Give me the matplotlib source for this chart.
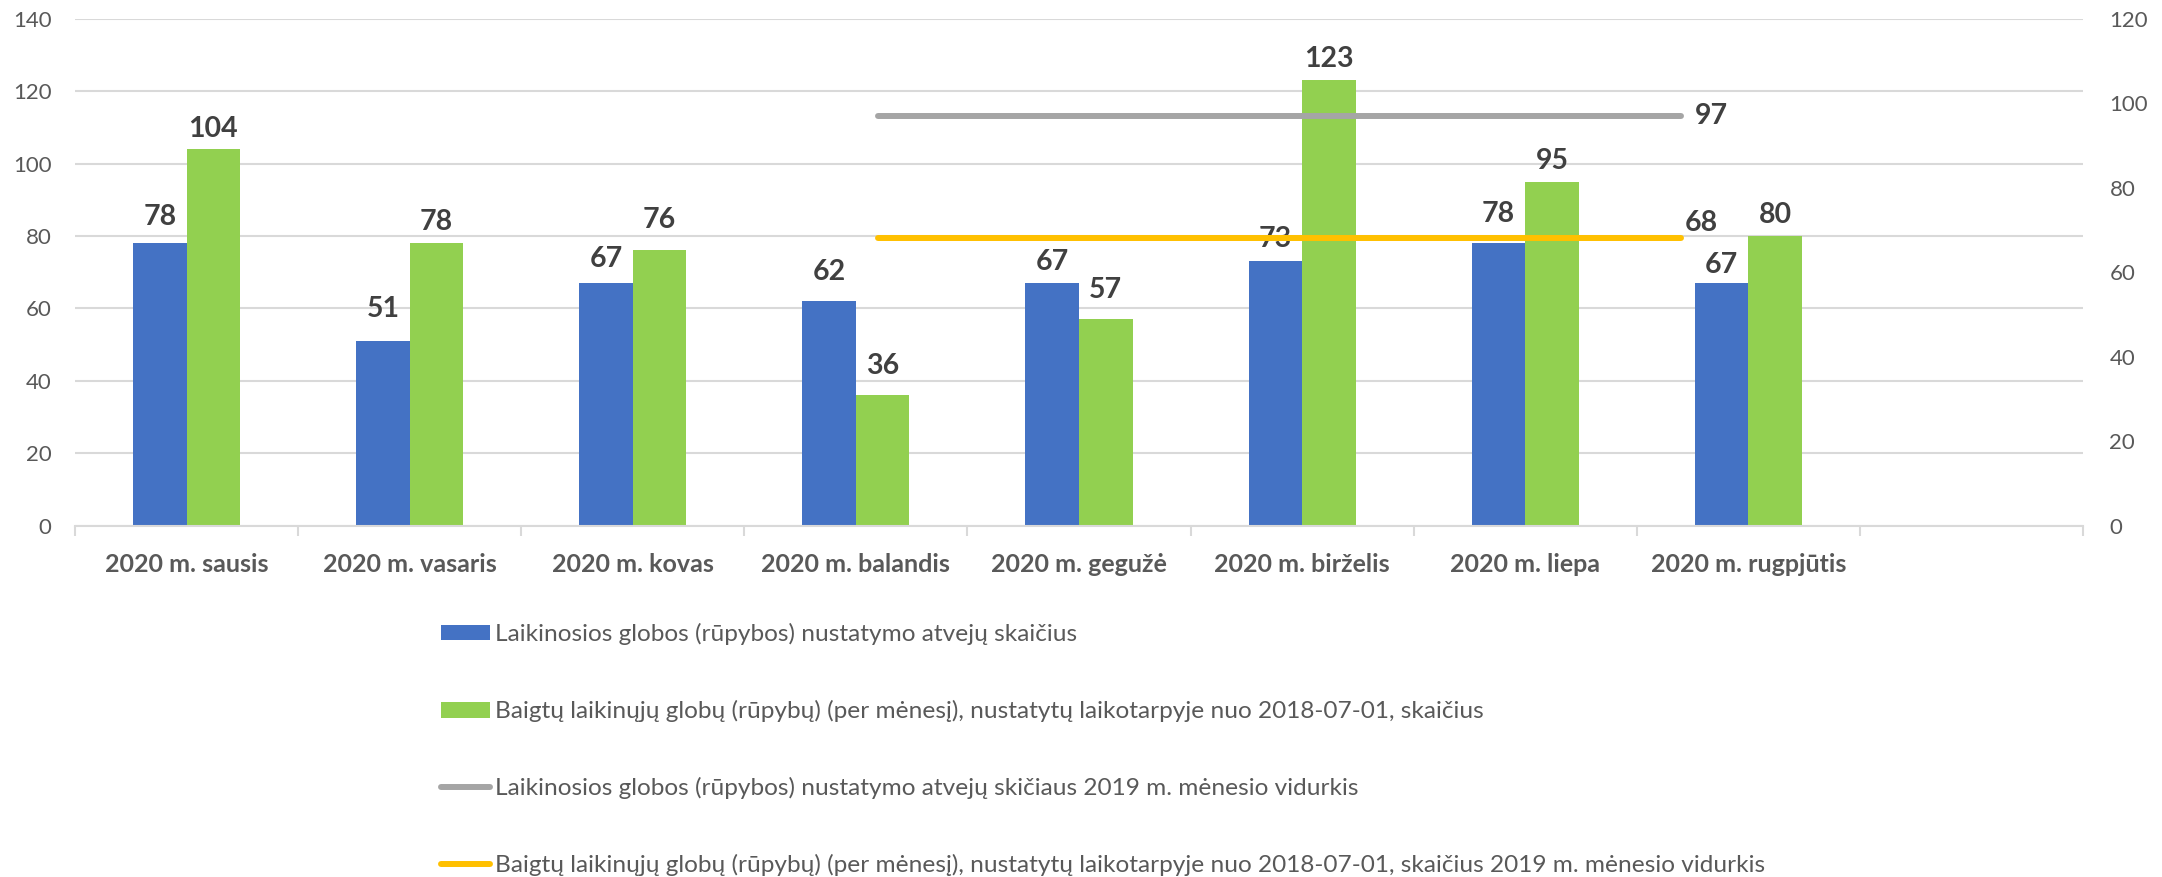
import matplotlib
matplotlib.use("Agg")
import numpy as np
from matplotlib import pyplot as plt
from matplotlib.lines import Line2D
from matplotlib.patches import Patch

# data
months = ["2020 m. sausis", "2020 m. vasaris", "2020 m. kovas", "2020 m. balandis",
          "2020 m. gegužė", "2020 m. birželis", "2020 m. liepa", "2020 m. rugpjūtis", ""]
nustatyta = [78, 51, 67, 62, 67, 73, 78, 67]
baigta = [104, 78, 76, 36, 57, 123, 95, 80]
# 2019 monthly averages, right axis, drawn on a 10 slot secondary category axis
avg_slots = [4, 5, 6, 7, 8]
avg_nustatyta = [97, 97, 97, 97, 97]
avg_baigta = [68, 68, 68, 68, 68]

legend_labels = [
    "Laikinosios globos (rūpybos) nustatymo atvejų skaičius",
    "Baigtų laikinųjų globų (rūpybų) (per mėnesį), nustatytų laikotarpyje nuo 2018-07-01, skaičius",
    "Laikinosios globos (rūpybos) nustatymo atvejų skičiaus 2019 m. mėnesio vidurkis",
    "Baigtų laikinųjų globų (rūpybų) (per mėnesį), nustatytų laikotarpyje nuo 2018-07-01, skaičius 2019 m. mėnesio vidurkis",
]

# label gaps above the bars (pixels), the labels were nudged by hand in the original
gap_blue = [18, 24, 16, 21, 13, 14, 21, 10]
gap_green = [12, 13, 22, 21, 21, 13, 13, 13]

BLUE = "#4472c4"
GREEN = "#92d050"
GREY = "#a5a5a5"
GOLD = "#ffc000"
TXT = "#595959"
LBL = "#404040"

plt.rcParams["font.family"] = ["Lato", "DejaVu Sans"]

fig = plt.figure(figsize=(21.62, 8.77), dpi=100)
ax = fig.add_axes([75 / 2162, 1 - 525.5 / 877, 2008 / 2162, 506.8 / 877])

x = np.arange(len(months))
w = 0.24
bars1 = ax.bar(x[:len(nustatyta)] - w / 2, nustatyta, w, color=BLUE, zorder=2)
bars2 = ax.bar(x[:len(baigta)] + w / 2, baigta, w, color=GREEN, zorder=2)

for b, v, g in zip(bars1, nustatyta, gap_blue):
    ax.annotate(str(v), (b.get_x() + b.get_width() / 2, v), xytext=(0, g),
                textcoords="offset pixels", ha="center", va="baseline",
                fontsize=20.5, fontweight="bold", color=LBL, zorder=1)
for b, v, g in zip(bars2, baigta, gap_green):
    ax.annotate(str(v), (b.get_x() + b.get_width() / 2, v), xytext=(0, g),
                textcoords="offset pixels", ha="center", va="baseline",
                fontsize=20.5, fontweight="bold", color=LBL, zorder=1)

ax.set_xlim(-0.5, len(months) - 0.5)
ax.set_ylim(0, 140)
ax.set_yticks(range(0, 141, 20))
ax.yaxis.grid(True, color="#d9d9d9", linewidth=1.5, zorder=0)
ax.set_axisbelow(True)
ax.set_xticks(x)
ax.set_xticklabels(months, fontsize=18, fontweight="bold", color=TXT)
ax.set_xticks(np.arange(-0.5, len(months), 1), minor=True)
ax.tick_params(axis="x", which="major", length=0, pad=20)
ax.tick_params(axis="x", which="minor", length=7, width=1.5, color="#d9d9d9")
ax.tick_params(axis="y", length=0, pad=17, labelsize=16, labelcolor=TXT)
for s in ["top", "left", "right"]:
    ax.spines[s].set_visible(False)
ax.spines["bottom"].set_color("#d9d9d9")
ax.spines["bottom"].set_linewidth(1.5)

# right axis
ax2 = ax.twinx()
ax2.set_ylim(0, 120)
ax2.set_yticks(range(0, 121, 20))
ax2.tick_params(axis="y", length=0, pad=19, labelsize=16, labelcolor=TXT)
for s in ax2.spines.values():
    s.set_visible(False)

# secondary category axis for the average lines
ax3 = ax2.twiny()
ax3.set_xlim(0, 10)
ax3.set_xticks([])
for s in ax3.spines.values():
    s.set_visible(False)
ax3.plot(avg_slots, avg_nustatyta, color=GREY, linewidth=4.3, solid_capstyle="round", zorder=3)
ax3.plot(avg_slots, avg_baigta, color=GOLD, linewidth=4.3, solid_capstyle="round", zorder=3)
ax3.annotate(str(avg_nustatyta[-1]), (avg_slots[-1], avg_nustatyta[-1]), xytext=(13, 0),
             textcoords="offset pixels", ha="left", va="center",
             fontsize=20.5, fontweight="bold", color=LBL)
ax3.annotate(str(avg_baigta[-1]), (avg_slots[-1], avg_baigta[-1]), xytext=(20, 7),
             textcoords="offset pixels", ha="center", va="baseline",
             fontsize=20.5, fontweight="bold", color=LBL)

handles = [
    Patch(facecolor=BLUE),
    Patch(facecolor=GREEN),
    Line2D([], [], color=GREY, linewidth=4.3, solid_capstyle="round"),
    Line2D([], [], color=GOLD, linewidth=4.3, solid_capstyle="round"),
]
leg = fig.legend(handles, legend_labels, loc="upper left",
                 bbox_to_anchor=(441 / 2162, 1 - 623 / 877), frameon=False,
                 fontsize=17.6, labelcolor=TXT, borderpad=0, borderaxespad=0,
                 labelspacing=2.25, handlelength=2.0, handletextpad=0.2,
                 handleheight=0.62)

fig.savefig("out.png", dpi=100)
